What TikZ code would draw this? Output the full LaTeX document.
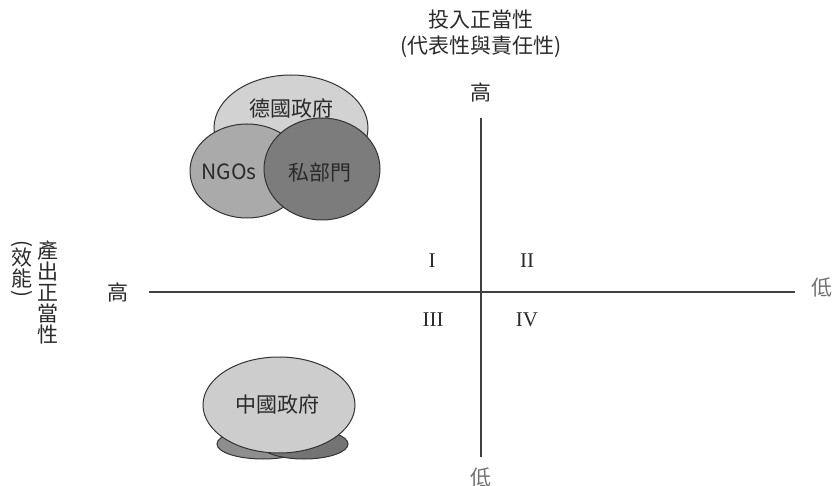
\documentclass[tikz,border=0pt]{standalone}
\usepackage{fontspec}
\setmainfont{Liberation Serif}
\newfontfamily\cjk{Noto Sans CJK TC}
\usetikzlibrary{shapes.geometric}
\definecolor{gerfill}{HTML}{D2D2D2}
\definecolor{ngofill}{HTML}{AAAAAA}
\definecolor{privfill}{HTML}{7C7C7C}
\definecolor{chnfill}{HTML}{CDCDCD}
\definecolor{chnl}{HTML}{8E8E8E}
\definecolor{chnr}{HTML}{747474}
\definecolor{txt}{HTML}{2A2A2A}
\definecolor{lowtxt}{HTML}{707070}
\begin{document}
\begin{tikzpicture}[x=1pt,y=-1pt,
  blob/.style={ellipse, draw=black!80, line width=1pt, inner sep=0pt},
  lbl/.style={font=\cjk\fontsize{21}{21}\selectfont, text=txt, inner sep=0pt},
  lowlbl/.style={font=\cjk\fontsize{21}{21}\selectfont, text=lowtxt, inner sep=0pt},
  roman/.style={font=\fontsize{21}{22}\selectfont, text=txt, inner sep=0pt},
  axis/.style={draw=black!75, line width=1.4pt}]
\useasboundingbox (0,0) rectangle (835,486);

% axes
\coordinate (vt) at (481,118);
\coordinate (vb) at (481,457);
\coordinate (hl) at (149,292);
\coordinate (hr) at (795,292);
\draw[axis] (vt) -- (vb);
\draw[axis] (hl) -- (hr);

% axis labels
\node[lbl] (intitle) at (481,20) {投入正當性};
\node[lbl] (insub) at (481,47) {(代表性與責任性)};
\node[lbl] (tophigh) at (481,92) {高};
\node[lowlbl] (botlow) at (481,477) {低};
\node[lbl] (lefthigh) at (118,292) {高};
\node[lowlbl] (rightlow) at (822,287) {低};

\node[lbl, align=center] (outlbl) at (48,292) {產\\出\\正\\當\\性};
\node[lbl, rotate=90] (pt) at (22,244) {)};
\node[lbl, align=center] (eff) at (22,268) {效\\能};
\node[lbl, rotate=90] (pb) at (22,294) {(};

% quadrants
\node[roman] (q1) at (432,261) {I};
\node[roman] (q2) at (527,261) {II};
\node[roman] (q3) at (433,320) {III};
\node[roman] (q4) at (527,320) {IV};

% German cluster
\node[blob, fill=gerfill, minimum width=154pt, minimum height=106pt] (ger) at (291,128) {};
\node[blob, fill=ngofill, minimum width=114pt, minimum height=94pt] (ngo) at (247,171) {};
\node[blob, fill=privfill, minimum width=116pt, minimum height=102pt] (priv) at (322,169) {};
\node[lbl] (gertxt) at (291,108) {德國政府};
\node[lbl] (ngotxt) at (229,172) {NGOs};
\node[lbl] (privtxt) at (320,172) {私部門};

% Chinese cluster
\node[blob, fill=chnl, minimum width=92pt, minimum height=30pt] (cl) at (263,444) {};
\node[blob, fill=chnr, minimum width=88pt, minimum height=30pt] (cr) at (304,444) {};
\node[blob, fill=chnfill, minimum width=152pt, minimum height=96pt] (chn) at (279,405) {};
\node[lbl] (chntxt) at (277,404) {中國政府};
\end{tikzpicture}
\end{document}
